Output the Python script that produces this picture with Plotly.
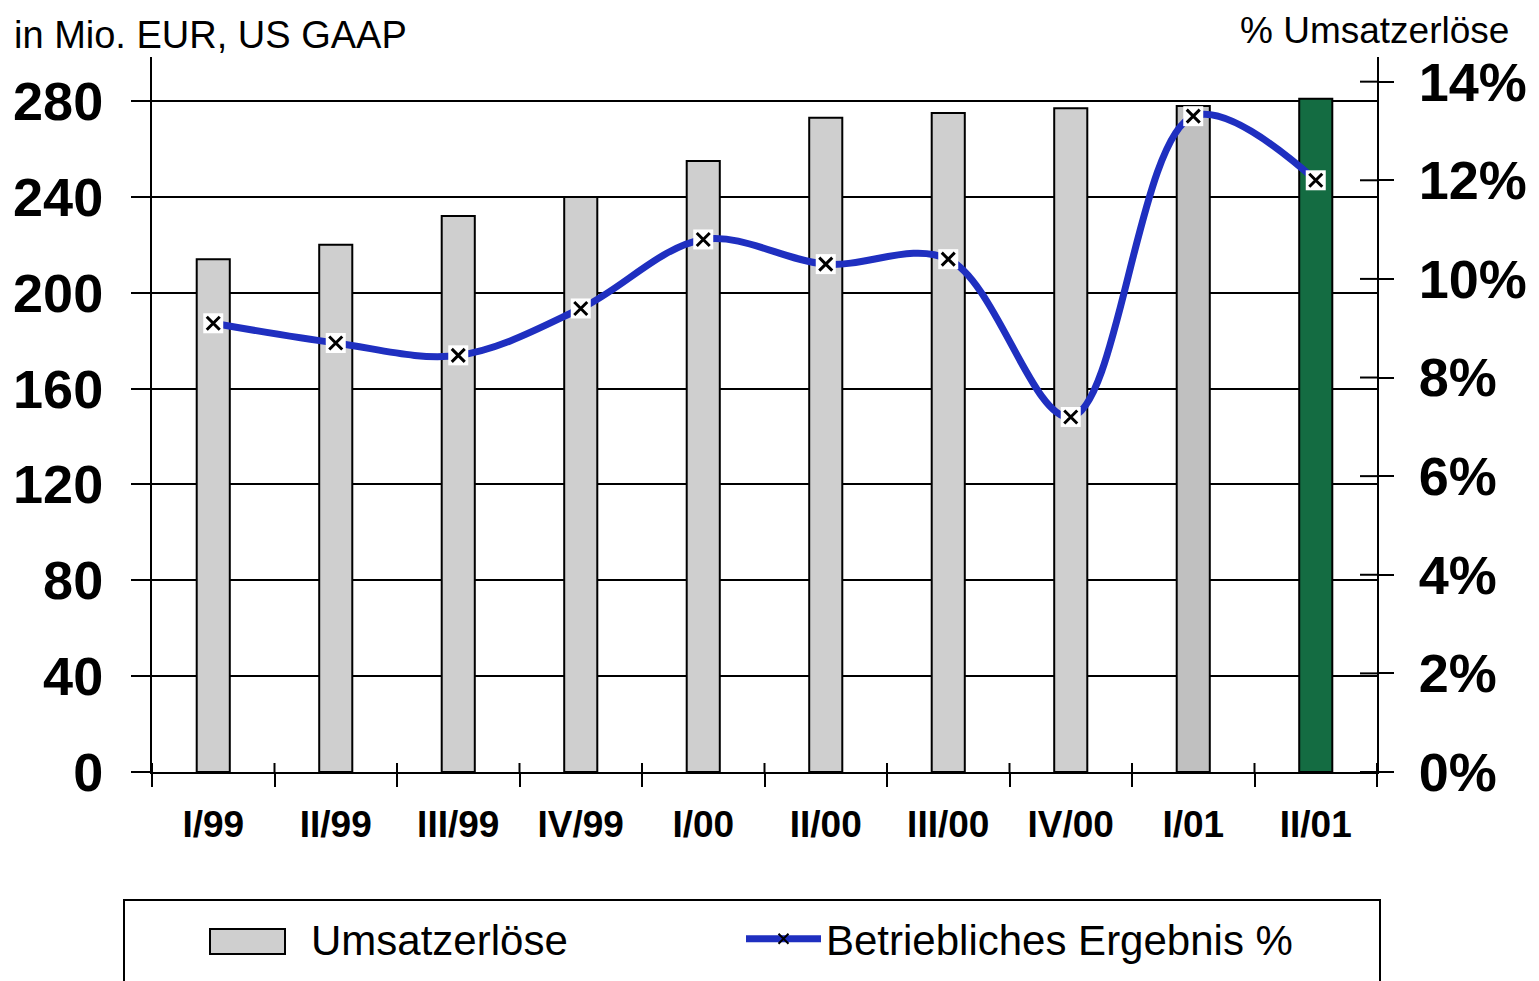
import plotly.graph_objects as go

categories = ["I/99", "II/99", "III/99", "IV/99", "I/00", "II/00", "III/00", "IV/00", "I/01", "II/01"]
umsatz = [214, 220, 232, 240, 255, 273, 275, 277, 278, 281]
ergebnis_pct = [9.1, 8.7, 8.45, 9.4, 10.8, 10.3, 10.4, 7.2, 13.3, 12.0]
bar_colors = ["#cfcfcf"] * 8 + ["#c0c0c0", "#146c42"]
left_ticks = [0, 40, 80, 120, 160, 200, 240, 280]
right_ticks = [0, 2, 4, 6, 8, 10, 12, 14]
right_ticktext = [f"{v}%" for v in right_ticks]

FONT = "Liberation Sans, Arial, sans-serif"
BLUE = "#1f2fc0"

# page body has an 8px margin: compensate so plot area sits at x 152..1377, y 57..772
W, H = 1531, 973
ML, MR, MT, MB = 144, 162, 49, 209
PW = W - ML - MR   # 1225
PH = H - MT - MB   # 715


def px_x(x):  # page pixel -> paper x
    return (x - 152) / PW


def px_y(y):  # page pixel -> paper y
    return (772 - y) / PH


fig = go.Figure()
fig.add_trace(go.Bar(
    x=categories, y=umsatz, name="Umsatzerlöse", showlegend=False,
    marker=dict(color=bar_colors, line=dict(color="black", width=2)),
    width=0.27, yaxis="y",
))
# legend entry for the bars (symbol drawn as a shape below)
fig.add_trace(go.Scatter(
    x=[None], y=[None], name="Umsatzerlöse", mode="markers", legend="legend",
    marker=dict(color="rgba(0,0,0,0)", size=1), yaxis="y",
))
fig.add_trace(go.Scatter(
    x=categories, y=ergebnis_pct, name="Betriebliches Ergebnis %", legend="legend2",
    mode="lines+markers", yaxis="y2",
    line=dict(color=BLUE, width=7, shape="spline", smoothing=1.0),
    marker=dict(symbol="x-thin", size=10, color="black", line=dict(color="black", width=2)),
))
fig.add_trace(go.Scatter(
    x=categories, y=ergebnis_pct, mode="markers", yaxis="y2", showlegend=False,
    marker=dict(symbol="square", size=20, color="white", line=dict(width=0)),
    hoverinfo="skip",
))
fig.add_trace(go.Scatter(
    x=categories, y=ergebnis_pct, mode="markers", yaxis="y2", showlegend=False,
    marker=dict(symbol="x-thin", size=13, color="black", line=dict(color="black", width=3)),
    hoverinfo="skip",
))

shapes = []
# upper halves of the crossing x ticks (category boundaries)
for i in range(len(categories) + 1):
    shapes.append(dict(type="line", xref="x", yref="paper", x0=i - 0.5, x1=i - 0.5,
                       y0=0, y1=9 / PH, line=dict(color="black", width=2)))
# inner halves of the crossing right-axis ticks
for v in right_ticks:
    shapes.append(dict(type="line", xref="paper", yref="y2", x0=1 - 17 / PW, x1=1,
                       y0=v, y1=v, line=dict(color="black", width=2)))
# legend frame
shapes.append(dict(type="rect", xref="paper", yref="paper",
                   x0=px_x(124), x1=px_x(1380), y0=px_y(1000), y1=px_y(900),
                   line=dict(color="black", width=2), fillcolor="rgba(0,0,0,0)"))
# legend symbol for the bars
shapes.append(dict(type="rect", xref="paper", yref="paper",
                   x0=px_x(210), x1=px_x(285), y0=px_y(954), y1=px_y(929),
                   line=dict(color="black", width=2), fillcolor="#cfcfcf"))

legend_common = dict(
    orientation="h", yanchor="top", xanchor="left",
    borderwidth=0, bgcolor="rgba(0,0,0,0)",
    font=dict(family=FONT, size=42), itemwidth=75,
)

fig.update_layout(
    width=W, height=H,
    margin=dict(l=ML, r=MR, t=MT, b=MB, autoexpand=False),
    paper_bgcolor="white", plot_bgcolor="white",
    font=dict(family=FONT, color="black"),
    showlegend=True,
    xaxis=dict(
        type="category", range=[-0.5, 9.5],
        showline=True, linecolor="black", linewidth=2,
        ticks="outside", tickson="boundaries", ticklen=13, tickwidth=2, tickcolor="black",
        showgrid=False,
        tickfont=dict(family=FONT, size=37, weight="bold"),
        ticklabelstandoff=19,
    ),
    yaxis=dict(
        range=[0, 298.4], tickvals=left_ticks,
        showline=True, linecolor="black", linewidth=2,
        ticks="outside", ticklen=19, tickwidth=2, tickcolor="black",
        showgrid=True, gridcolor="black", gridwidth=2,
        zeroline=False,
        tickfont=dict(family=FONT, size=54, weight="bold"),
        ticklabelstandoff=17,
    ),
    yaxis2=dict(
        overlaying="y", side="right", range=[0, 14.5],
        tickmode="array", tickvals=right_ticks, ticktext=right_ticktext,
        showline=True, linecolor="black", linewidth=2,
        ticks="outside", ticklen=15, tickwidth=2, tickcolor="black",
        showgrid=False, zeroline=False,
        tickfont=dict(family=FONT, size=54, weight="bold"),
        ticklabelstandoff=14,
    ),
    legend=dict(x=px_x(226), y=px_y(905), **legend_common),
    legend2=dict(x=px_x(741), y=px_y(905), **legend_common),
    annotations=[
        dict(text="in Mio. EUR, US GAAP", xref="paper", yref="paper", x=px_x(12), y=px_y(35),
             xanchor="left", yanchor="middle", showarrow=False, font=dict(family=FONT, size=38)),
        dict(text="% Umsatzerlöse", xref="paper", yref="paper", x=px_x(1510), y=px_y(31),
             xanchor="right", yanchor="middle", showarrow=False, borderpad=0,
             font=dict(family=FONT, size=37)),
    ],
    shapes=shapes,
)

fig.write_html("out.html")
